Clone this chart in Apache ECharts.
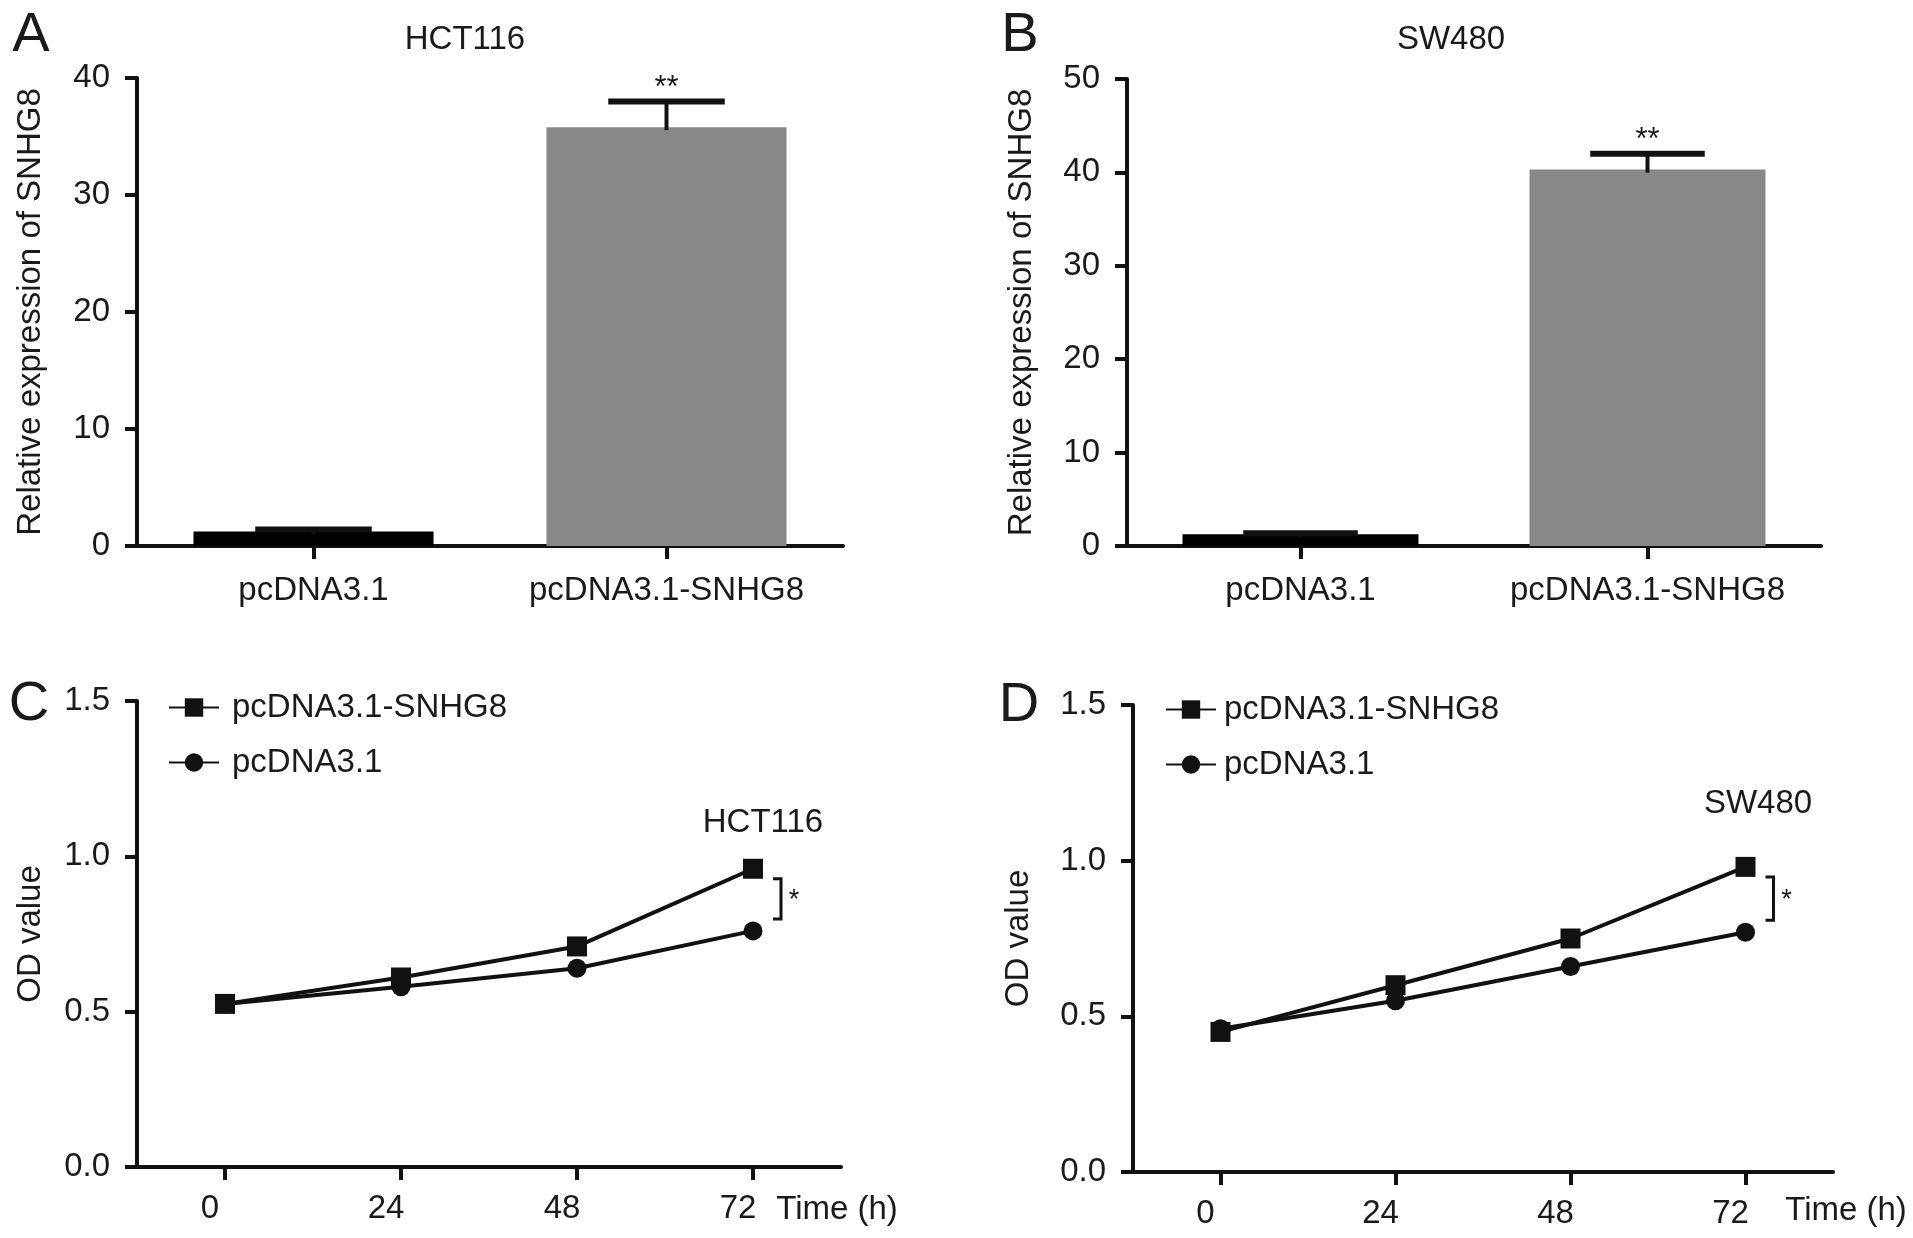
<!DOCTYPE html>
<html>
<head>
<meta charset="utf-8">
<script src="https://cdn.jsdelivr.net/npm/echarts@6/dist/echarts.min.js"></script>
<style>
html,body{margin:0;padding:0;background:#fff;}
#chart{width:1913px;height:1238px;}
</style>
</head>
<body>
<div id="chart"></div>
<script>
// ---- data ----
const exprCategories = ['pcDNA3.1', 'pcDNA3.1-SNHG8'];
const hctExpr = [1.25, 35.8];
const hctExprErr = [0.15, 2.2];
const swExpr = [1.25, 40.3];
const swExprErr = [0.12, 1.7];
const exprStars = ['', '**'];
const barColors = ['#000000', '#888888'];

const timeLabels = ['0', '24', '48', '72'];
const hctSnhg8 = [0.525, 0.61, 0.71, 0.96];
const hctCtrl = [0.525, 0.58, 0.64, 0.76];
const swSnhg8 = [0.45, 0.60, 0.75, 0.98];
const swCtrl = [0.46, 0.55, 0.66, 0.77];

const seriesNames = ['pcDNA3.1-SNHG8', 'pcDNA3.1'];

// ---- style helpers ----
const FONT = "'Liberation Sans', Arial, Helvetica, sans-serif";
const INK = '#111111';
const TXT = '#1a1a1a';
const FS = 33;

function valueY(gridIndex, max, interval, name, gap, fmt) {
  return {
    type: 'value', gridIndex: gridIndex, min: 0, max: max, interval: interval,
    name: name, nameLocation: 'middle', nameGap: gap,
    nameTextStyle: {fontFamily: FONT, fontSize: FS, color: TXT},
    axisLine: {show: true, lineStyle: {color: INK, width: 4}},
    axisTick: {show: true, length: 12, lineStyle: {color: INK, width: 4}},
    axisLabel: {fontFamily: FONT, fontSize: FS, color: TXT, margin: 27, formatter: fmt},
    splitLine: {show: false}
  };
}
function catX(gridIndex, data, margin, labelPad) {
  return {
    type: 'category', gridIndex: gridIndex, data: data, boundaryGap: true,
    axisLine: {show: true, onZero: false, lineStyle: {color: INK, width: 4}},
    axisTick: {show: true, alignWithLabel: true, length: 13, lineStyle: {color: INK, width: 4}},
    axisLabel: {fontFamily: FONT, fontSize: FS, color: TXT, margin: margin, padding: labelPad, interval: 0},
    splitLine: {show: false}
  };
}

function barData(vals) {
  return vals.map(function (v, i) { return {value: v, itemStyle: {color: barColors[i]}}; });
}
function errData(vals, errs) {
  return vals.map(function (v, i) { return [i, v, errs[i]]; });
}
function errRender(params, api) {
  const i = api.value(0), v = api.value(1), e = api.value(2);
  const base = api.coord([i, v]);
  const top = api.coord([i, v + e]);
  const band = api.size([1, 0])[0];
  const half = band * 0.165;
  const children = [
    {type: 'line', shape: {x1: base[0], y1: base[1] + 3, x2: top[0], y2: top[1]}, style: {stroke: INK, lineWidth: 4}},
    {type: 'line', shape: {x1: top[0] - half, y1: top[1], x2: top[0] + half, y2: top[1]}, style: {stroke: INK, lineWidth: 6}}
  ];
  const s = exprStars[params.dataIndex];
  if (s) {
    children.push({type: 'text', x: top[0], y: top[1] - 13,
      style: {text: s, fontFamily: FONT, fontSize: 31, fill: TXT, align: 'center', verticalAlign: 'middle'}});
  }
  return {type: 'group', children: children};
}
function bracketRender(params, api) {
  const i = api.value(0);
  const p1 = api.coord([i, api.value(1)]);
  const p2 = api.coord([i, api.value(2)]);
  const x0 = p1[0] + 20, x1 = p1[0] + 28;
  const y0 = p1[1] + 10, y1 = p2[1] - 12;
  return {type: 'group', children: [
    {type: 'polyline', shape: {points: [[x0, y0], [x1, y0], [x1, y1], [x0, y1]]}, style: {stroke: INK, lineWidth: 3, fill: null}},
    {type: 'text', x: x1 + 13, y: (y0 + y1) / 2 + 2,
      style: {text: '*', fontFamily: FONT, fontSize: 27, fill: TXT, align: 'center', verticalAlign: 'middle'}}
  ]};
}
function lineSeries(name, data, xi, yi, symbol, size) {
  return {
    type: 'line', name: name, data: data, xAxisIndex: xi, yAxisIndex: yi,
    symbol: symbol, symbolSize: size, showSymbol: true,
    color: INK, lineStyle: {color: INK, width: 4}, itemStyle: {color: INK},
    z: name === seriesNames[0] ? 4 : 3, animation: false
  };
}
function legend(left, top, pad) {
  return {
    orient: 'vertical', left: left, top: top, data: seriesNames,
    itemWidth: 50, itemHeight: 23, itemGap: 22,
    textStyle: {fontFamily: FONT, fontSize: FS, color: TXT, lineHeight: 32, padding: [0, 0, 0, pad]},
    selectedMode: false
  };
}
function txt(x, y, s, size, align) {
  return {type: 'text', x: x, y: y,
    style: {text: s, fontFamily: FONT, fontSize: size, fill: TXT, align: align || 'center', verticalAlign: 'middle'}};
}

const fmt0 = function (v) { return String(v); };
const fmt1 = function (v) { return v.toFixed(1); };

const option = {
  animation: false,
  backgroundColor: '#ffffff',
  grid: [
    {left: 137, top: 78, width: 706, height: 468},
    {left: 1127, top: 79, width: 694, height: 467},
    {left: 137, top: 701, width: 704, height: 466},
    {left: 1133, top: 705, width: 700, height: 467}
  ],
  xAxis: [
    catX(0, exprCategories, 28, 0),
    catX(1, exprCategories, 28, 0),
    catX(2, timeLabels, 25, [0, 30, 0, 0]),
    catX(3, timeLabels, 25, [0, 30, 0, 0])
  ],
  yAxis: [
    valueY(0, 40, 10, 'Relative expression of SNHG8', 90, fmt0),
    valueY(1, 50, 10, 'Relative expression of SNHG8', 89, fmt0),
    valueY(2, 1.5, 0.5, 'OD value', 90, fmt1),
    valueY(3, 1.5, 0.5, 'OD value', 98, fmt1)
  ],
  legend: [legend(163, 686, 8), legend(1160, 688, 3)],
  series: [
    {type: 'bar', name: 'HCT116 SNHG8', xAxisIndex: 0, yAxisIndex: 0, barWidth: '68%', data: barData(hctExpr)},
    {type: 'custom', name: 'HCT116 err', xAxisIndex: 0, yAxisIndex: 0, renderItem: errRender,
      data: errData(hctExpr, hctExprErr), encode: {x: 0, y: 1}, z: 5},
    {type: 'bar', name: 'SW480 SNHG8', xAxisIndex: 1, yAxisIndex: 1, barWidth: '68%', data: barData(swExpr)},
    {type: 'custom', name: 'SW480 err', xAxisIndex: 1, yAxisIndex: 1, renderItem: errRender,
      data: errData(swExpr, swExprErr), encode: {x: 0, y: 1}, z: 5},

    lineSeries(seriesNames[1], hctCtrl, 2, 2, 'circle', 19),
    lineSeries(seriesNames[0], hctSnhg8, 2, 2, 'rect', 20),
    {type: 'custom', name: 'HCT116 sig', xAxisIndex: 2, yAxisIndex: 2, renderItem: bracketRender,
      data: [[3, hctSnhg8[3], hctCtrl[3]]], encode: {x: 0, y: 1}, z: 5},

    lineSeries(seriesNames[1], swCtrl, 3, 3, 'circle', 19),
    lineSeries(seriesNames[0], swSnhg8, 3, 3, 'rect', 20),
    {type: 'custom', name: 'SW480 sig', xAxisIndex: 3, yAxisIndex: 3, renderItem: bracketRender,
      data: [[3, swSnhg8[3], swCtrl[3]]], encode: {x: 0, y: 1}, z: 5}
  ],
  graphic: [
    txt(31, 36, 'A', 56), txt(1020, 36, 'B', 56), txt(29, 705, 'C', 56), txt(1019, 706, 'D', 56),
    txt(465, 40, 'HCT116', FS), txt(1451, 40, 'SW480', FS),
    txt(763, 823, 'HCT116', FS), txt(1758, 804, 'SW480', FS),
    txt(837, 1210, 'Time (h)', FS), txt(1846, 1211, 'Time (h)', FS)
  ]
};

const chart = echarts.init(document.getElementById('chart'), null, {renderer: 'canvas'});
chart.setOption(option);
</script>
</body>
</html>
